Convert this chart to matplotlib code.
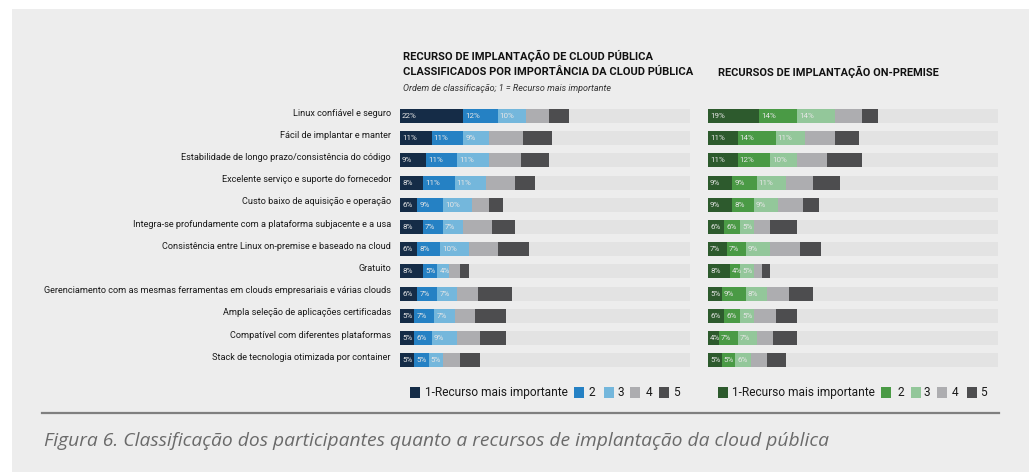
import matplotlib
matplotlib.use("Agg")
import matplotlib.pyplot as plt
from matplotlib.patches import Rectangle
from matplotlib.lines import Line2D
import matplotlib.transforms as mtransforms

# ---------------- data ----------------
categories = [
    "Linux confiável e seguro",
    "Fácil de implantar e manter",
    "Estabilidade de longo prazo/consistência do código",
    "Excelente serviço e suporte do fornecedor",
    "Custo baixo de aquisição e operação",
    "Integra-se profundamente com a plataforma subjacente e a usa",
    "Consistência entre Linux on-premise e baseado na cloud",
    "Gratuito",
    "Gerenciamento com as mesmas ferramentas em clouds empresariais e várias clouds",
    "Ampla seleção de aplicações certificadas",
    "Compatível com diferentes plataformas",
    "Stack de tecnologia otimizada por container",
]
rank_labels = ["1-Recurso mais importante", "2", "3", "4", "5"]

cloud_r1 = [22, 11, 9, 8, 6, 8, 6, 8, 6, 5, 5, 5]
cloud_r2 = [12, 11, 11, 11, 9, 7, 8, 5, 7, 7, 6, 5]
cloud_r3 = [10, 9, 11, 11, 10, 7, 10, 4, 7, 7, 9, 5]
cloud_r4 = [8, 12, 11, 10, 6, 10, 10, 4, 7, 7, 8, 6]
cloud_r5 = [7, 10, 10, 7, 5, 8, 11, 3, 12, 11, 9, 7]

onprem_r1 = [19, 11, 11, 9, 9, 6, 7, 8, 5, 6, 4, 5]
onprem_r2 = [14, 14, 12, 9, 8, 6, 7, 4, 9, 6, 7, 5]
onprem_r3 = [14, 11, 10, 11, 9, 5, 9, 5, 8, 5, 7, 6]
onprem_r4 = [10, 11, 11, 10, 9, 6, 11, 3, 8, 8, 6, 6]
onprem_r5 = [6, 9, 13, 10, 6, 10, 8, 3, 9, 8, 9, 7]

subtitle_left = "Ordem de classificação; 1 = Recurso mais importante"
title_right = "RECURSOS DE IMPLANTAÇÃO ON-PREMISE"
caption = "Figura 6. Classificação dos participantes quanto a recursos de implantação da cloud pública"

# ---------------- style ----------------
BG = "#ededed"
TRACK = "#e3e3e3"
cloud_colors = ["#152c47", "#2581c4", "#74b7dc", "#adadb0", "#4d4d4f"]
onprem_colors = ["#2d5a2d", "#4a9a45", "#93c79a", "#adadb0", "#4d4d4f"]
FONT = ["Liberation Sans Narrow", "Roboto", "DejaVu Sans"]
plt.rcParams["font.family"] = FONT

W, H = 1031, 472
fig = plt.figure(figsize=(W / 100, H / 100), dpi=100)
fig.patch.set_facecolor("white")
# gray panel
fig.patches.append(Rectangle((12 / W, 0), (1029 - 12) / W, (H - 9) / H,
                             transform=fig.transFigure, facecolor=BG,
                             edgecolor="none", zorder=-5))

n = len(categories)
row_px = 22.2
top_px = 116 - row_px / 2
ax_h = n * row_px


def fx(px):
    return px / W


def fy(px):
    return 1 - px / H


def make_axes(x0, x1):
    ax = fig.add_axes([fx(x0), fy(top_px + ax_h), fx(x1 - x0), ax_h / H])
    ax.set_facecolor("none")
    for s in ax.spines.values():
        s.set_visible(False)
    ax.set_xticks([])
    ax.set_yticks([])
    ax.set_ylim(n - 0.5, -0.5)
    ax.set_zorder(2)
    return ax


def draw_panel(ax, series, colors, xmax):
    ax.set_xlim(0, xmax)
    ys = list(range(n))
    ax.barh(ys, [xmax] * n, height=0.63, color=TRACK, zorder=1)
    left = [0] * n
    for k, (vals, col) in enumerate(zip(series, colors)):
        ax.barh(ys, vals, left=left, height=0.63, color=col, zorder=2)
        if k < 3:
            for i, v in enumerate(vals):
                ax.annotate(f"{v}%", (left[i], i), xytext=(1.5, 0),
                            textcoords="offset points", ha="left", va="center",
                            fontsize=5.8, color="#e6e6e6", zorder=3)
        left = [a + b for a, b in zip(left, vals)]


ax_l = make_axes(400, 690)
draw_panel(ax_l, [cloud_r1, cloud_r2, cloud_r3, cloud_r4, cloud_r5], cloud_colors, 101)
ax_r = make_axes(708, 998)
draw_panel(ax_r, [onprem_r1, onprem_r2, onprem_r3, onprem_r4, onprem_r5], onprem_colors, 107.4)

# category labels
trans = mtransforms.blended_transform_factory(ax_l.transAxes, ax_l.transData)
for i, c in enumerate(categories):
    ax_l.text(-9 / 290, i - 0.13, c, transform=trans, ha="right", va="center",
              fontsize=6.6, color="#1a1a1a", clip_on=False)

# titles
fig.text(fx(403), fy(56), "RECURSO DE IMPLANTAÇÃO DE CLOUD PÚBLICA", ha="left", va="center",
         fontsize=8.0, fontweight="bold", color="#111111")
fig.text(fx(403), fy(71.5), "CLASSIFICADOS POR IMPORTÂNCIA DA CLOUD PÚBLICA", ha="left", va="center",
         fontsize=8.0, fontweight="bold", color="#111111")
fig.text(fx(403), fy(88), subtitle_left, ha="left", va="center",
         fontsize=6.5, style="italic", color="#333333")
fig.text(fx(718), fy(71.5), title_right, ha="left", va="center",
         fontsize=7.9, fontweight="bold", color="#111111")


# legends
def legend(x_squares, x_texts, colors):
    yc = 392.5
    for xs, xt, col, lab in zip(x_squares, x_texts, colors, rank_labels):
        fig.patches.append(Rectangle((fx(xs), fy(yc + 5.5)), fx(10), 11 / H,
                                     transform=fig.transFigure, facecolor=col,
                                     edgecolor="none", zorder=3))
        fig.text(fx(xt), fy(yc), lab, ha="left", va="center", fontsize=8.6,
                 color="#1a1a1a")


legend([409.5, 573.5, 604, 629.5, 659], [425, 588.5, 617, 645.5, 673.5], cloud_colors)
legend([717.5, 881, 911, 937, 966.5], [732, 897, 924, 952, 980], onprem_colors)

# separator and caption
fig.add_artist(Line2D([fx(42), fx(999)], [fy(413), fy(413)], transform=fig.transFigure,
                      color="#7f7f7f", linewidth=1.6))
fig.text(fx(44), fy(441), caption, ha="left", va="center", fontsize=13.9,
         style="italic", color="#6a6a6a", family=["Open Sans", "DejaVu Sans"])

fig.savefig("out.png", dpi=100, facecolor=fig.get_facecolor())
